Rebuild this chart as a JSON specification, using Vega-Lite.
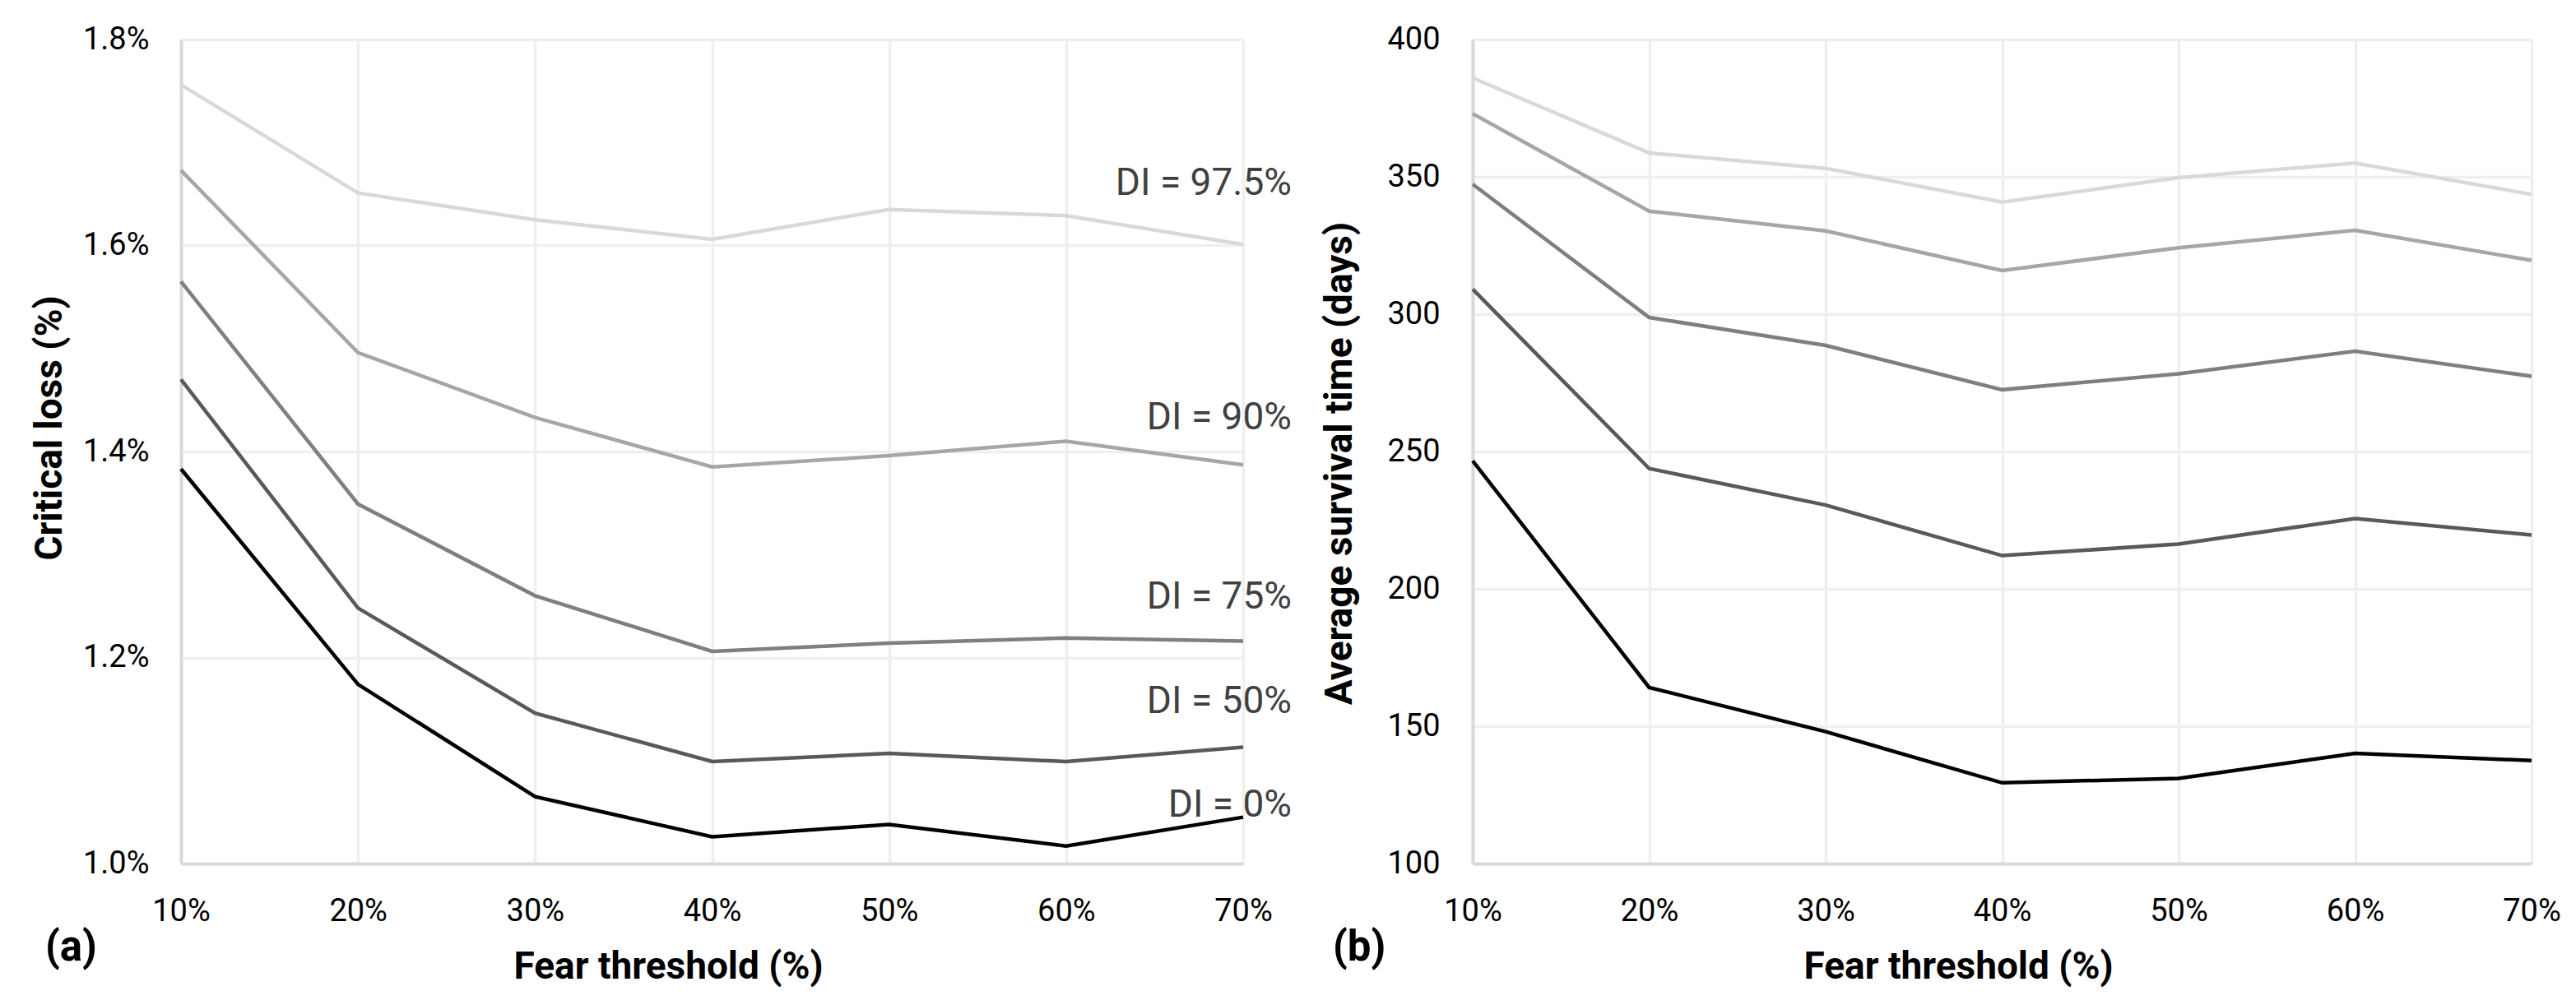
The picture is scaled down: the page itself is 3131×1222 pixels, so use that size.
{
  "$schema": "https://vega.github.io/schema/vega-lite/v6.json",
  "background": "white",
  "padding": {"left": 37, "top": 29, "right": 5, "bottom": 5},
  "spacing": 35,
  "datasets": {
    "loss": [
      {"fear": 10, "di": "DI = 0%", "loss": 1.383},
      {"fear": 20, "di": "DI = 0%", "loss": 1.174},
      {"fear": 30, "di": "DI = 0%", "loss": 1.065},
      {"fear": 40, "di": "DI = 0%", "loss": 1.026},
      {"fear": 50, "di": "DI = 0%", "loss": 1.038},
      {"fear": 60, "di": "DI = 0%", "loss": 1.017},
      {"fear": 70, "di": "DI = 0%", "loss": 1.045},
      {"fear": 10, "di": "DI = 50%", "loss": 1.470},
      {"fear": 20, "di": "DI = 50%", "loss": 1.248},
      {"fear": 30, "di": "DI = 50%", "loss": 1.146},
      {"fear": 40, "di": "DI = 50%", "loss": 1.099},
      {"fear": 50, "di": "DI = 50%", "loss": 1.107},
      {"fear": 60, "di": "DI = 50%", "loss": 1.099},
      {"fear": 70, "di": "DI = 50%", "loss": 1.113},
      {"fear": 10, "di": "DI = 75%", "loss": 1.565},
      {"fear": 20, "di": "DI = 75%", "loss": 1.349},
      {"fear": 30, "di": "DI = 75%", "loss": 1.260},
      {"fear": 40, "di": "DI = 75%", "loss": 1.206},
      {"fear": 50, "di": "DI = 75%", "loss": 1.214},
      {"fear": 60, "di": "DI = 75%", "loss": 1.219},
      {"fear": 70, "di": "DI = 75%", "loss": 1.216},
      {"fear": 10, "di": "DI = 90%", "loss": 1.673},
      {"fear": 20, "di": "DI = 90%", "loss": 1.496},
      {"fear": 30, "di": "DI = 90%", "loss": 1.433},
      {"fear": 40, "di": "DI = 90%", "loss": 1.385},
      {"fear": 50, "di": "DI = 90%", "loss": 1.396},
      {"fear": 60, "di": "DI = 90%", "loss": 1.410},
      {"fear": 70, "di": "DI = 90%", "loss": 1.387},
      {"fear": 10, "di": "DI = 97.5%", "loss": 1.756},
      {"fear": 20, "di": "DI = 97.5%", "loss": 1.651},
      {"fear": 30, "di": "DI = 97.5%", "loss": 1.625},
      {"fear": 40, "di": "DI = 97.5%", "loss": 1.606},
      {"fear": 50, "di": "DI = 97.5%", "loss": 1.635},
      {"fear": 60, "di": "DI = 97.5%", "loss": 1.629},
      {"fear": 70, "di": "DI = 97.5%", "loss": 1.601}
    ],
    "lossLabels": [
      {"fear": 70, "di": "DI = 0%", "loss": 1.057},
      {"fear": 70, "di": "DI = 50%", "loss": 1.157},
      {"fear": 70, "di": "DI = 75%", "loss": 1.259},
      {"fear": 70, "di": "DI = 90%", "loss": 1.433},
      {"fear": 70, "di": "DI = 97.5%", "loss": 1.660}
    ],
    "survival": [
      {"fear": 10, "di": "DI = 0%", "days": 246.6},
      {"fear": 20, "di": "DI = 0%", "days": 164.1},
      {"fear": 30, "di": "DI = 0%", "days": 148.0},
      {"fear": 40, "di": "DI = 0%", "days": 129.4},
      {"fear": 50, "di": "DI = 0%", "days": 131.0},
      {"fear": 60, "di": "DI = 0%", "days": 140.1},
      {"fear": 70, "di": "DI = 0%", "days": 137.5},
      {"fear": 10, "di": "DI = 50%", "days": 309.1},
      {"fear": 20, "di": "DI = 50%", "days": 243.8},
      {"fear": 30, "di": "DI = 50%", "days": 230.5},
      {"fear": 40, "di": "DI = 50%", "days": 212.1},
      {"fear": 50, "di": "DI = 50%", "days": 216.3},
      {"fear": 60, "di": "DI = 50%", "days": 225.6},
      {"fear": 70, "di": "DI = 50%", "days": 219.6},
      {"fear": 10, "di": "DI = 75%", "days": 347.3},
      {"fear": 20, "di": "DI = 75%", "days": 298.8},
      {"fear": 30, "di": "DI = 75%", "days": 288.6},
      {"fear": 40, "di": "DI = 75%", "days": 272.5},
      {"fear": 50, "di": "DI = 75%", "days": 278.3},
      {"fear": 60, "di": "DI = 75%", "days": 286.5},
      {"fear": 70, "di": "DI = 75%", "days": 277.4},
      {"fear": 10, "di": "DI = 90%", "days": 373.0},
      {"fear": 20, "di": "DI = 90%", "days": 337.5},
      {"fear": 30, "di": "DI = 90%", "days": 330.3},
      {"fear": 40, "di": "DI = 90%", "days": 315.9},
      {"fear": 50, "di": "DI = 90%", "days": 324.2},
      {"fear": 60, "di": "DI = 90%", "days": 330.5},
      {"fear": 70, "di": "DI = 90%", "days": 319.6},
      {"fear": 10, "di": "DI = 97.5%", "days": 386.0},
      {"fear": 20, "di": "DI = 97.5%", "days": 358.7},
      {"fear": 30, "di": "DI = 97.5%", "days": 353.1},
      {"fear": 40, "di": "DI = 97.5%", "days": 340.8},
      {"fear": 50, "di": "DI = 97.5%", "days": 349.7},
      {"fear": 60, "di": "DI = 97.5%", "days": 355.0},
      {"fear": 70, "di": "DI = 97.5%", "days": 343.6}
    ]
  },
  "hconcat": [
    {
      "width": 1291,
      "height": 1002,
      "title": {"text": "(a)", "orient": "bottom", "anchor": "start", "frame": "group", "dx": -165, "offset": -70},
      "layer": [
        {
          "data": {"name": "loss"},
          "mark": {"type": "line", "strokeWidth": 4.5},
          "encoding": {
            "x": {
              "field": "fear", "type": "quantitative",
              "scale": {"domain": [10, 70], "nice": false, "zero": false},
              "axis": {"values": [10, 20, 30, 40, 50, 60, 70], "labelExpr": "datum.value + '%'", "title": "Fear threshold (%)", "titleX": 592, "titleY": 125}
            },
            "y": {
              "field": "loss", "type": "quantitative",
              "scale": {"domain": [1.0, 1.8], "nice": false, "zero": false},
              "axis": {"values": [1.0, 1.2, 1.4, 1.6, 1.8], "labelExpr": "format(datum.value, '.1f') + '%'", "title": "Critical loss (%)", "titleX": -160, "titleY": 472, "labelPadding": 39}
            },
            "color": {
              "field": "di", "type": "nominal", "legend": null,
              "scale": {"domain": ["DI = 0%", "DI = 50%", "DI = 75%", "DI = 90%", "DI = 97.5%"], "range": ["#000000", "#595959", "#7f7f7f", "#a6a6a6", "#d9d9d9"]}
            }
          }
        },
        {
          "data": {"name": "lossLabels"},
          "mark": {"type": "text", "align": "right", "baseline": "middle", "dx": 59, "font": "Roboto", "fontSize": 46, "color": "#404040"},
          "encoding": {
            "x": {"field": "fear", "type": "quantitative"},
            "y": {"field": "loss", "type": "quantitative"},
            "text": {"field": "di"}
          }
        }
      ]
    },
    {
      "width": 1287,
      "height": 1002,
      "title": {"text": "(b)", "orient": "bottom", "anchor": "start", "frame": "group", "dx": -170, "offset": -70},
      "data": {"name": "survival"},
      "mark": {"type": "line", "strokeWidth": 4.5},
      "encoding": {
        "x": {
          "field": "fear", "type": "quantitative",
          "scale": {"domain": [10, 70], "nice": false, "zero": false},
          "axis": {"values": [10, 20, 30, 40, 50, 60, 70], "labelExpr": "datum.value + '%'", "title": "Fear threshold (%)", "titleX": 590, "titleY": 125}
        },
        "y": {
          "field": "days", "type": "quantitative",
          "scale": {"domain": [100, 400], "nice": false, "zero": false},
          "axis": {"values": [100, 150, 200, 250, 300, 350, 400], "title": "Average survival time (days)", "titleX": -162, "titleY": 515, "labelPadding": 40}
        },
        "color": {
          "field": "di", "type": "nominal", "legend": null,
          "scale": {"domain": ["DI = 0%", "DI = 50%", "DI = 75%", "DI = 90%", "DI = 97.5%"], "range": ["#000000", "#595959", "#7f7f7f", "#a6a6a6", "#d9d9d9"]}
        }
      }
    }
  ],
  "config": {
    "font": "Roboto",
    "view": {"stroke": null},
    "axis": {
      "domainColor": "#d9d9d9",
      "domainWidth": 4,
      "gridColor": "#efefef",
      "gridWidth": 3.5,
      "ticks": false,
      "labelFlush": false,
      "labelOverlap": false,
      "labelFont": "Roboto",
      "labelFontSize": 38,
      "labelColor": "#000000",
      "labelPadding": 39,
      "titleFont": "Roboto",
      "titleFontSize": 46,
      "titleFontWeight": "bold",
      "titleColor": "#000000",
      "titleAlign": "center",
      "titleBaseline": "middle"
    },
    "title": {
      "font": "Roboto",
      "fontSize": 51,
      "fontWeight": "bold",
      "color": "#000000",
      "baseline": "middle"
    }
  }
}
